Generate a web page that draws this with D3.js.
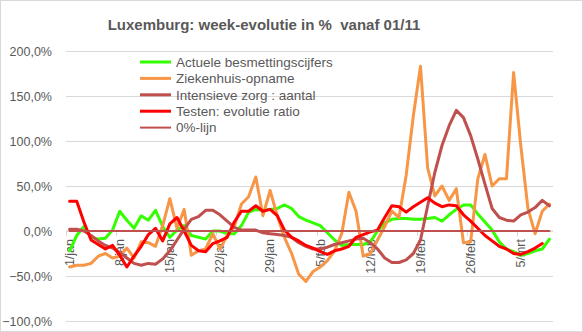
<!DOCTYPE html>
<html>
<head>
<meta charset="utf-8">
<script src="https://cdn.jsdelivr.net/npm/d3@7"></script>
<style>
  html, body { margin: 0; padding: 0; background: #fff; }
  svg { display: block; font-family: "Liberation Sans", Arial, sans-serif; }
</style>
</head>
<body>
<svg id="chart" width="583" height="332"></svg>
<script>
// ---- Data ----
const days = [
  "1/jan","2/jan","3/jan","4/jan","5/jan","6/jan","7/jan","8/jan","9/jan","10/jan",
  "11/jan","12/jan","13/jan","14/jan","15/jan","16/jan","17/jan","18/jan","19/jan","20/jan",
  "21/jan","22/jan","23/jan","24/jan","25/jan","26/jan","27/jan","28/jan","29/jan","30/jan",
  "31/jan","1/feb","2/feb","3/feb","4/feb","5/feb","6/feb","7/feb","8/feb","9/feb",
  "10/feb","11/feb","12/feb","13/feb","14/feb","15/feb","16/feb","17/feb","18/feb","19/feb",
  "20/feb","21/feb","22/feb","23/feb","24/feb","25/feb","26/feb","27/feb","28/feb","1/mrt",
  "2/mrt","3/mrt","4/mrt","5/mrt","6/mrt","7/mrt","8/mrt","9/mrt"
];
const tickLabels = ["1/jan","8/jan","15/jan","22/jan","29/jan","5/feb","12/feb","19/feb","26/feb","5/mrt"];
const yTicks = [-100, -50, 0, 50, 100, 150, 200];

const actuele = [
  -22, -5, 5, -7, -9, -8, 1, 22, 12, 3,
  17, 12, 23, 5, -7, 1, 6, -5, -7, -9,
  0, 0, -3, -3, 6, 21, 24, 23, 24, 25,
  29, 25, 16, 12, 9, 6, -2, -10, -16, -15,
  -15, -15, -12, 0, 9, 13, 14, 14, 13, 13,
  14, 15, 11, 18, 24, 29, 29, 19, 10, 1,
  -12, -20, -23, -27, -25, -22, -20, -9
];
const ziekenhuis = [
  -40, -38, -38, -36, -28, -25, -30, -28, -19, -30,
  -12, -13, -17, 6, 36, 3, 24, -27, -22, -20,
  -3, -20, -5, 5, 30, 38, 60, 17, 45, 17,
  -7, -25, -48, -56, -45, -40, -33, -22, -3, 43,
  22, -28, -25, -10, 5, 22, 15, 62, 128, 183,
  70, 39, 50, 34, 47, -13, -12, 58, 85, 50,
  58, 58, 176, 95, 25, -3, 22, 30
];
const intensieve = [
  2, 2, 0, -5, -11, -16, -19, -24, -30, -36,
  -38, -36, -37, -31, -22, -10, 2, 13, 16, 23,
  23, 18, 11, 4, 1, 1, 1, -2, -3, -4,
  -5, -7, -13, -17, -20, -20, -18, -15, -13, -11,
  -9, -8, -13, -20, -30, -35, -35, -32, -25, -10,
  28, 65, 95, 117, 134, 126, 106, 80, 52, 25,
  15, 12, 11, 18, 21, 26, 34, 28
];
const testen = [
  33, 33, 10, -10, -15, -20, -16, -27, -40, -28,
  -17, -4, 3, -11, 8, 15, 0, -16, -22, -23,
  -14, -11, -7, 10, 22, 22, 28, 22, 24, 17,
  1, -7, -11, -16, -19, -23, -26, -22, -20, -17,
  -7, -4, -1, 1, 15, 28, 27, 21, 27, 32,
  37, 31, 27, 29, 28, 18, 11, 3, -5, -11,
  -17, -20, -25, -26, -23, -19, -14
];
const nulLijn = [
  0,0,0,0,0,0,0,0,0,0, 0,0,0,0,0,0,0,0,0,0,
  0,0,0,0,0,0,0,0,0,0, 0,0,0,0,0,0,0,0,0,0,
  0,0,0,0,0,0,0,0,0,0, 0,0,0,0,0,0,0,0,0,0,
  0,0,0,0,0,0,0,0
];

const seriesNames = ["Actuele besmettingscijfers","Ziekenhuis-opname","Intensieve zorg : aantal","Testen: evolutie ratio","0%-lijn"];
const seriesColors = ["#33FF00","#F79646","#C0504D","#FF0000","#C0504D"];
const seriesWidths = [3, 3, 3, 3, 2];
const seriesData = [actuele, ziekenhuis, intensieve, testen, nulLijn];

// ---- Chart ----
(function () {
const svg = d3.select("#chart");
const W = 583, H = 332;
const pL = 66, pR = 553, pT = 51, pB = 321;
const textColor = "#595959";

svg.append("rect").attr("x", 0.5).attr("y", 0.5).attr("width", W - 1).attr("height", H - 1)
  .attr("fill", "#fff").attr("stroke", "#D9D9D9");

const x = d3.scaleBand().domain(days).range([pL, pR]).paddingInner(0).paddingOuter(0);
const xc = d => x(d) + x.bandwidth() / 2;
const y = d3.scaleLinear().domain([-100, 200]).range([pB, pT]);

// grid + y labels
const fmt = v => d3.format(".1f")(v).replace(".", ",") + "%";
const yAxis = svg.append("g").attr("transform", `translate(${pL},0)`)
  .call(d3.axisLeft(y).tickValues(yTicks).tickSize(-(pR - pL)).tickPadding(14).tickFormat(fmt));
yAxis.select(".domain").remove();
yAxis.selectAll(".tick line").attr("stroke", "#D9D9D9").attr("stroke-width", 1);
yAxis.selectAll(".tick text").attr("fill", textColor).style("font-size", "12.5px")
  .style("font-family", "'Liberation Sans', Arial, sans-serif");

// x axis at 0
const y0 = y(0);
const xAxisG = svg.append("g").attr("transform", `translate(0,${y0})`);
xAxisG.append("line").attr("x1", pL).attr("x2", pR).attr("y1", 0).attr("y2", 0)
  .attr("stroke", "#D9D9D9");
const weekStarts = days.filter((d, i) => i % 7 === 0);
xAxisG.selectAll("line.tk").data(weekStarts).enter().append("line").attr("class", "tk")
  .attr("x1", d => Math.round(x(d)) + 0.5).attr("x2", d => Math.round(x(d)) + 0.5)
  .attr("y1", 0).attr("y2", 5).attr("stroke", "#D9D9D9");
xAxisG.selectAll("text.xl").data(tickLabels).enter().append("text").attr("class", "xl")
  .attr("transform", d => `translate(${xc(d)},8) rotate(-90)`)
  .attr("text-anchor", "end").attr("dy", "0.35em")
  .attr("fill", textColor).style("font-size", "12.5px")
  .text(d => d);

// lines
const line = d3.line().x((d, i) => xc(days[i])).y(d => y(d)).curve(d3.curveLinear);
seriesData.forEach((arr, k) => {
  svg.append("path").datum(arr)
    .attr("fill", "none")
    .attr("stroke", seriesColors[k])
    .attr("stroke-width", seriesWidths[k])
    .attr("stroke-linejoin", "round")
    .attr("stroke-linecap", "round")
    .attr("d", line);
});

// title
svg.append("text").attr("x", 264).attr("y", 30).attr("text-anchor", "middle")
  .attr("fill", textColor).style("font-size", "15px").style("font-weight", "bold")
  .style("white-space", "pre")
  .text("Luxemburg: week-evolutie in %  vanaf 01/11");

// legend
const lg = svg.append("g");
seriesNames.forEach((name, k) => {
  const ly = 62 + k * 16.4;
  lg.append("line").attr("x1", 140).attr("x2", 171).attr("y1", ly).attr("y2", ly)
    .attr("stroke", seriesColors[k]).attr("stroke-width", seriesWidths[k]);
  lg.append("text").attr("x", 176).attr("y", ly).attr("dy", "0.35em")
    .attr("fill", textColor).style("font-size", "13.5px").text(name);
});
})();
</script>
</body>
</html>
